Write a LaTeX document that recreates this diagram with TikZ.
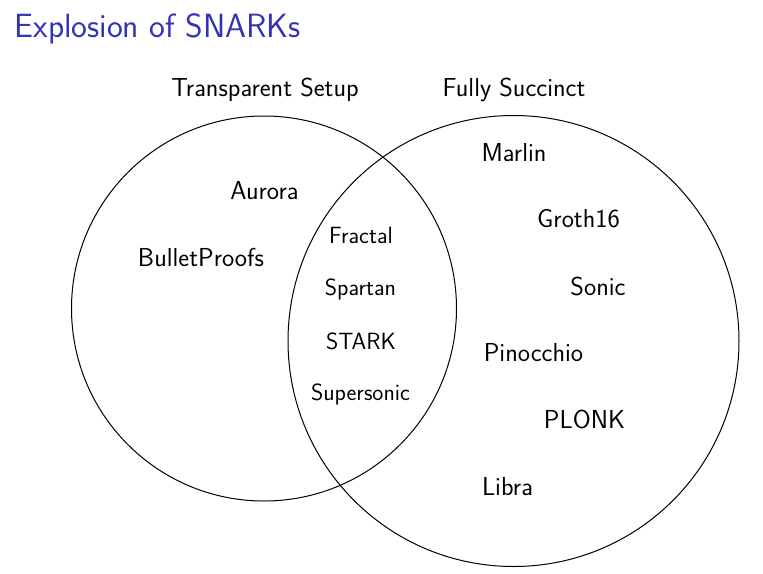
\documentclass[tikz,border=0pt]{standalone}
\usepackage{fontspec}
\setsansfont{Latin Modern Sans}
\definecolor{beamerblue}{RGB}{51,51,179}
\tikzset{
  setcircle/.style={draw=black, line width=1pt},
  outerlabel/.style={anchor=base, inner sep=0pt, font=\sffamily\fontsize{26}{30}\selectfont},
  innerlabel/.style={anchor=base, inner sep=0pt, font=\sffamily\fontsize{23.5}{28}\selectfont},
  titlelabel/.style={anchor=base west, inner sep=0pt, text=beamerblue, font=\sffamily\fontsize{33.6}{38}\selectfont}
}
\begin{document}
\begin{tikzpicture}[x=1pt,y=-1pt]
\useasboundingbox (0,0) rectangle (763,573);
\node[titlelabel] (title) at (14.5,37) {Explosion of SNARKs};
\draw[setcircle] (264,308.5) circle[radius=192.5];
\draw[setcircle] (513.5,341) circle[radius=225.5];
\node[outerlabel] (ts) at (265,96.7) {Transparent Setup};
\node[outerlabel] (fs) at (514,96.7) {Fully Succinct};
\node[outerlabel] (aurora) at (264.5,199) {Aurora};
\node[outerlabel] (bullet) at (201,266) {BulletProofs};
\node[innerlabel] (fractal) at (361,243.3) {Fractal};
\node[innerlabel] (spartan) at (360.5,295) {Spartan};
\node[innerlabel] (stark) at (361,349.3) {STARK};
\node[innerlabel] (supersonic) at (360.5,400) {Supersonic};
\node[outerlabel] (marlin) at (514,161) {Marlin};
\node[outerlabel] (groth) at (578.5,227) {Groth16};
\node[outerlabel] (sonic) at (598,295) {Sonic};
\node[outerlabel] (pinocchio) at (533.5,361) {Pinocchio};
\node[outerlabel] (plonk) at (584.5,428) {PLONK};
\node[outerlabel] (libra) at (507.5,495) {Libra};
\end{tikzpicture}
\end{document}
